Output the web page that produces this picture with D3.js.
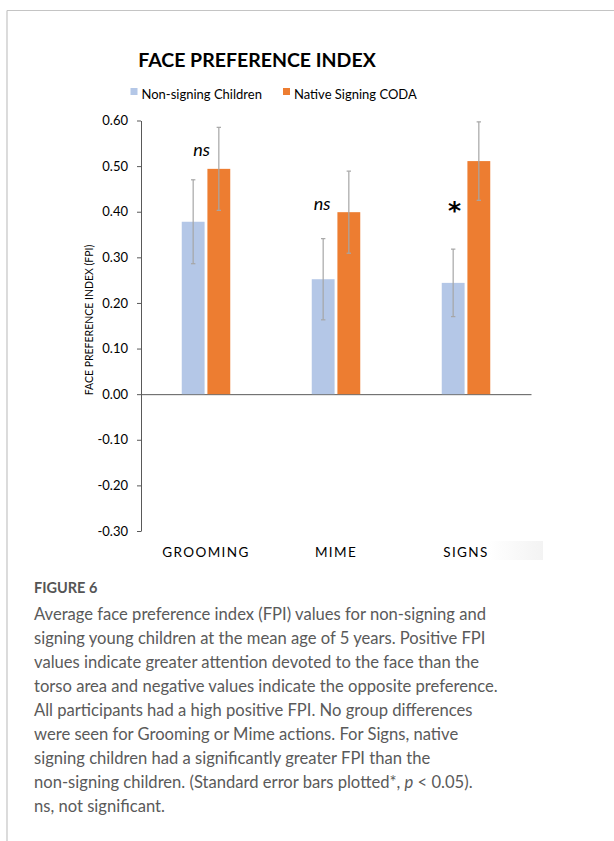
<!DOCTYPE html>
<html>
<head>
<meta charset="utf-8">
<script src="https://cdn.jsdelivr.net/npm/d3@7"></script>
<style>
  html, body { margin: 0; padding: 0; background: #fff; }
  svg { display: block; }
</style>
</head>
<body>
<script>
// ---- data ----
const categories = ["GROOMING", "MIME", "SIGNS"];
const seriesNames = ["Non-signing Children", "Native Signing CODA"];
const nonSigning = [0.378, 0.252, 0.244];
const nonSigningErr = [0.092, 0.089, 0.074];
const coda = [0.494, 0.399, 0.511];
const codaErr = [0.091, 0.090, 0.086];
const annotations = ["ns", "ns", "*"];
const yTicks = [0.6, 0.5, 0.4, 0.3, 0.2, 0.1, 0.0, -0.1, -0.2, -0.3];
const yTickLabels = ["0.60", "0.50", "0.40", "0.30", "0.20", "0.10", "0.00", "-0.10", "-0.20", "-0.30"];
const captionTitle = "FIGURE 6";
const captionLines = [
  "Average face preference index (FPI) values for non-signing and",
  "signing young children at the mean age of 5 years. Positive FPI",
  "values indicate greater attention devoted to the face than the",
  "torso area and negative values indicate the opposite preference.",
  "All participants had a high positive FPI. No group differences",
  "were seen for Grooming or Mime actions. For Signs, native",
  "signing children had a significantly greater FPI than the",
  "non-signing children. (Standard error bars plotted*, <i>p</i> < 0.05).",
  "ns, not significant."
];
const colors = ["#b4c7e7", "#ed7d31"];

const W = 614, H = 841;
const svg = d3.select("body").append("svg").attr("width", W).attr("height", H);

// frame
svg.append("line").attr("x1", 7).attr("x2", W).attr("y1", 10.5).attr("y2", 10.5)
  .attr("stroke", "#c4c4c4").attr("stroke-width", 1.2);
svg.append("line").attr("x1", 7).attr("x2", 7).attr("y1", 10.5).attr("y2", H)
  .attr("stroke", "#c4c4c4").attr("stroke-width", 1.2);

const font = "Lato, 'Open Sans', sans-serif";

// title
svg.append("text").attr("x", 257).attr("y", 67).attr("text-anchor", "middle")
  .attr("font-family", font).attr("font-weight", "bold").attr("font-size", 19.5)
  .attr("fill", "#000").text("FACE PREFERENCE INDEX");

// legend
const legendX = [130.5, 283];
seriesNames.forEach((n, i) => {
  const g = svg.append("g").attr("transform", `translate(${legendX[i]},0)`);
  g.append("rect").attr("x", 0).attr("y", 88).attr("width", 7).attr("height", 7).attr("fill", colors[i]);
  g.append("text").attr("x", 11).attr("y", 99).attr("font-family", font).attr("font-size", 13)
    .attr("fill", "#000").text(n);
});

// scales
const x0 = d3.scaleBand().domain(categories).range([141, 531]);
const x1 = d3.scaleBand().domain(seriesNames).range([0, 48.5]).paddingInner(0.11);
const y = d3.scaleLinear().domain([-0.3, 0.6]).range([531, 120.5]);

// axes
const yAxis = d3.axisLeft(y).tickValues(yTicks).tickSize(4).tickSizeOuter(0)
  .tickFormat((d, i) => yTickLabels[i]);
const gy = svg.append("g").attr("transform", "translate(141,0)").call(yAxis);
gy.select(".domain").attr("stroke", "#595959").attr("stroke-width", 1);
gy.selectAll(".tick line").attr("stroke", "#595959");
gy.selectAll(".tick text").attr("font-family", font).attr("font-size", 13)
  .attr("fill", "#000").attr("x", -13);

const xAxis = d3.axisBottom(x0).tickSize(0).tickSizeOuter(0).tickFormat("");
const gx = svg.append("g").attr("transform", `translate(0,${y(0)})`).call(xAxis);
gx.select(".domain").attr("stroke", "#595959").attr("stroke-width", 1);

// y axis title
svg.append("text").attr("transform", `translate(93,${(247 + 393) / 2}) rotate(-90)`)
  .attr("text-anchor", "middle").attr("font-family", font).attr("font-size", 10.5)
  .attr("fill", "#000").text("FACE PREFERENCE INDEX (FPI)");

// bars
const data = categories.map((c, i) => ({
  cat: c,
  vals: [
    { s: seriesNames[0], v: nonSigning[i], e: nonSigningErr[i], c: colors[0] },
    { s: seriesNames[1], v: coda[i], e: codaErr[i], c: colors[1] }
  ]
}));
const groupW = 48.5;
const groups = svg.append("g").selectAll("g").data(data).join("g")
  .attr("transform", d => `translate(${x0(d.cat) + x0.bandwidth() / 2 - groupW / 2},0)`);
groups.selectAll("rect").data(d => d.vals).join("rect")
  .attr("x", d => x1(d.s)).attr("width", x1.bandwidth())
  .attr("y", d => y(d.v)).attr("height", d => y(0) - y(d.v))
  .attr("fill", d => d.c);
// error bars
const eb = groups.selectAll("g.err").data(d => d.vals).join("g").attr("class", "err");
eb.append("line")
  .attr("x1", d => x1(d.s) + x1.bandwidth() / 2).attr("x2", d => x1(d.s) + x1.bandwidth() / 2)
  .attr("y1", d => y(d.v + d.e)).attr("y2", d => y(d.v - d.e))
  .attr("stroke", "#a6a6a6").attr("stroke-width", 1.2);
[1, -1].forEach(sg => {
  eb.append("line")
    .attr("x1", d => x1(d.s) + x1.bandwidth() / 2 - 2.2).attr("x2", d => x1(d.s) + x1.bandwidth() / 2 + 2.2)
    .attr("y1", d => y(d.v + sg * d.e)).attr("y2", d => y(d.v + sg * d.e))
    .attr("stroke", "#a6a6a6").attr("stroke-width", 1.2);
});

// annotations
categories.forEach((c, i) => {
  const cx = x0(c) + x0.bandwidth() / 2;
  if (annotations[i] === "*") {
    svg.append("text").attr("x", cx - 11.5).attr("y", 218.5).attr("text-anchor", "middle")
      .attr("font-family", "'DejaVu Sans', sans-serif").attr("font-weight", "bold").attr("font-size", 25)
      .attr("fill", "#000").text("*");
  } else {
    svg.append("text").attr("x", cx - (i === 0 ? 4.5 : 14)).attr("y", i === 0 ? 156 : 210).attr("text-anchor", "middle")
      .attr("font-family", font).attr("font-style", "italic").attr("font-size", 18)
      .attr("fill", "#000").text(annotations[i]);
  }
});

// faint artifact next to SIGNS
const grad = svg.append("defs").append("linearGradient").attr("id", "fade");
grad.append("stop").attr("offset", "0%").attr("stop-color", "#fff");
grad.append("stop").attr("offset", "100%").attr("stop-color", "#f3f3f3");
svg.append("rect").attr("x", 488).attr("y", 541).attr("width", 55).attr("height", 19).attr("fill", "url(#fade)");

// category labels
svg.append("g").selectAll("text").data(categories).join("text")
  .attr("x", d => x0(d) + x0.bandwidth() / 2).attr("y", 557).attr("text-anchor", "middle")
  .attr("font-family", font).attr("font-size", 13.5).attr("letter-spacing", 1.4)
  .attr("fill", "#000").text(d => d);

// caption
svg.append("text").attr("x", 34).attr("y", 593).attr("font-family", font)
  .attr("font-weight", "bold").attr("font-size", 14.5).attr("fill", "#555").text(captionTitle);
const cap = svg.append("g");
captionLines.forEach((l, i) => {
  const t = cap.append("text").attr("x", 34).attr("y", 620 + i * 24)
    .attr("font-family", font).attr("font-size", 16.6).attr("fill", "#5a5a5a");
  if (l.includes("<i>")) {
    const parts = l.split(/<i>|<\/i>/);
    parts.forEach((p, k) => {
      t.append("tspan").attr("font-style", k === 1 ? "italic" : null).text(p);
    });
  } else {
    t.text(l);
  }
});
</script>
</body>
</html>
